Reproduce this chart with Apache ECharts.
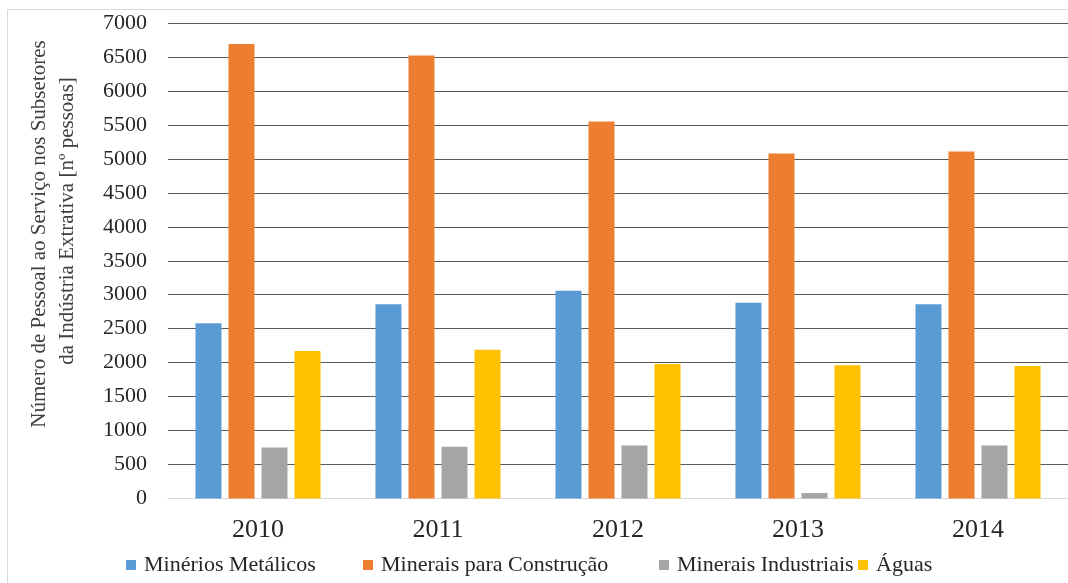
<!DOCTYPE html>
<html>
<head>
<meta charset="utf-8">
<script src="https://cdn.jsdelivr.net/npm/echarts@6/dist/echarts.min.js"></script>
<style>
  html, body { margin: 0; padding: 0; background: #fff; }
  #main { width: 1068px; height: 583px; }
</style>
</head>
<body>
<div id="main"></div>
<script>
// anos
const anos = ["2010", "2011", "2012", "2013", "2014"];

// pessoal ao serviço por subsetor
const metalicos = [2580, 2860, 3060, 2880, 2860];
const construcao = [6690, 6520, 5550, 5080, 5110];
const industriais = [750, 760, 780, 80, 780];
const aguas = [2170, 2190, 1980, 1960, 1950];

const nomes = ["Minérios Metálicos", "Minerais para Construção", "Minerais Industriais", "Águas"];
const cores = ["#5B9BD5", "#ED7D31", "#A5A5A5", "#FFC000"]; // cores estilo Excel
const legendaX = [121, 358, 654, 853]; // posição de cada item da legenda

const fonte = "Liberation Serif";

let myChart = echarts.init(document.getElementById("main"));

function serie(nome, dados, i) {
  return {
    name: nome,
    type: "bar",
    data: dados,
    barWidth: 26,
    barGap: "27%",
    itemStyle: { color: cores[i] }
  };
}

function tituloY(texto, x, y) {
  return {
    type: "text",
    x: x,
    y: y,
    rotation: Math.PI / 2,
    style: {
      text: texto,
      fontFamily: fonte,
      fontSize: 21,
      fill: "#404040",
      align: "center",
      verticalAlign: "middle"
    }
  };
}

let option = {
  backgroundColor: "#fff",
  animation: false,
  textStyle: { fontFamily: fonte },
  graphic: [
    // moldura clara
    {
      type: "rect",
      shape: { x: 7.5, y: 9.5, width: 1100, height: 600 },
      style: { fill: "none", stroke: "#d9d9d9", lineWidth: 1 },
      silent: true
    },
    // título do eixo y, uma linha de cada vez
    tituloY("Número de Pessoal ao Serviço nos Subsetores", 39, 234),
    tituloY("da Indústria Extrativa [nº pessoas]", 67, 221)
  ],
  grid: {
    left: 168,
    top: 23,
    width: 905,
    height: 475.5,
    containLabel: false
  },
  // uma legenda por série para acertar as posições
  legend: nomes.map(function(n, i) {
    return {
      data: [n],
      left: legendaX[i],
      top: 549,
      icon: "rect",
      itemWidth: 10,
      itemHeight: 10,
      textStyle: { fontFamily: fonte, fontSize: 22, color: "#262626", padding: [0, 0, 0, 3] }
    };
  }),
  xAxis: {
    type: "category",
    data: anos,
    axisTick: { show: false },
    axisLine: { lineStyle: { color: "#d9d9d9", width: 1 } },
    axisLabel: { fontFamily: fonte, fontSize: 26, color: "#262626", margin: 19 }
  },
  yAxis: {
    type: "value",
    min: 0,
    max: 7000,
    interval: 500,
    axisLine: { show: false },
    axisTick: { show: false },
    axisLabel: {
      fontFamily: fonte,
      fontSize: 22,
      color: "#262626",
      margin: 21,
      formatter: function(v) { return String(v); }
    },
    splitLine: { lineStyle: { color: "#595959", width: 1 } }
  },
  series: [
    serie(nomes[0], metalicos, 0),
    serie(nomes[1], construcao, 1),
    serie(nomes[2], industriais, 2),
    serie(nomes[3], aguas, 3)
  ]
};

myChart.setOption(option);
</script>
</body>
</html>
